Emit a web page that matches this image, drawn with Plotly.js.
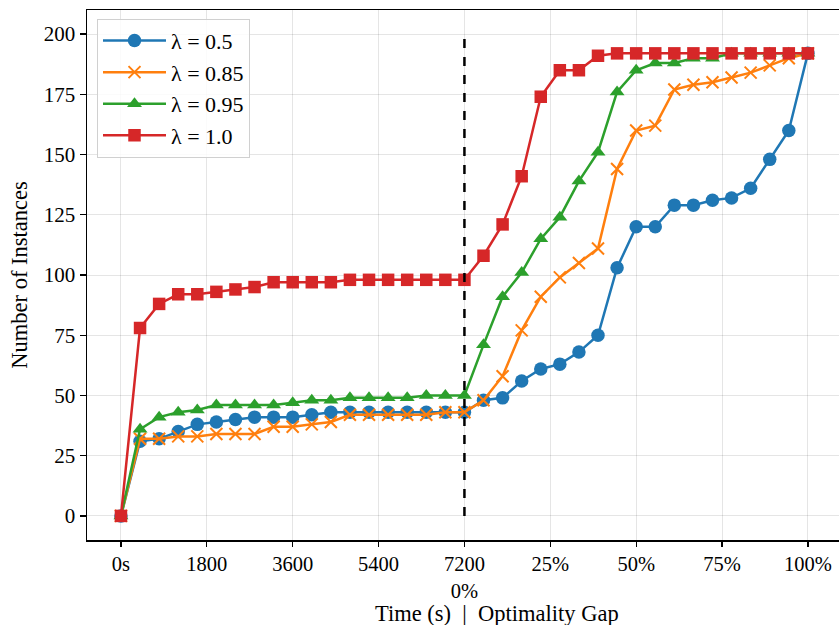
<!DOCTYPE html>
<html>
<head>
<meta charset="utf-8">
<script src="https://cdn.plot.ly/plotly-3.0.1.min.js"></script>
<style>html,body{margin:0;padding:0;background:#fff;overflow:hidden}</style>
</head>
<body>
<div id="chart" style="width:839px;height:625px"></div>
<script>
// Tick labels along the combined axis (time part then optimality-gap part)
const tickPositions = [0, 4.5, 9, 13.5, 18, 22.5, 27, 31.5, 36];
const tickLabels = ["0s", "1800", "3600", "5400", "7200<br>0%", "25%", "50%", "75%", "100%"];
const splitIndex = 18; // 7200 s / 0% boundary
const dashedLineY = [0, 200];
const xTitle = "Time (s)  |  Optimality Gap";
const yTitle = "Number of Instances";

const seriesNames = ["λ = 0.5", "λ = 0.85", "λ = 0.95", "λ = 1.0"];
const lambda05 = [0,31,32,35,38,39,40,41,41,41,42,43,43,43,43,43,43,43,43,
                  48,49,56,61,63,68,75,103,120,120,129,129,131,132,136,148,160,192];
const lambda085 = [0,32,32,33,33,34,34,34,37,37,38,39,42,42,42,42,42,43,43,
                   48,58,77,91,99,105,111,144,160,162,177,179,180,182,184,187,190,192];
const lambda095 = [0,36,41,43,44,46,46,46,46,47,48,48,49,49,49,49,50,50,50,
                   71,91,101,115,124,139,151,176,185,188,188,190,190,192,192,192,192,192];
const lambda10 = [0,78,88,92,92,93,94,95,97,97,97,97,98,98,98,98,98,98,98,
                  108,121,141,174,185,185,191,192,192,192,192,192,192,192,192,192,192,192];

const colors = ["#1f77b4", "#ff7f0e", "#2ca02c", "#d62728"];
const symbols = ["circle", "x-thin", "triangle-up", "square"];
const sizes = [13.5, 12, 13, 12.5];
const allSeries = [lambda05, lambda085, lambda095, lambda10];

const xs = lambda05.map((_, i) => i);

const traces = allSeries.map((ys, k) => ({
  x: xs, y: ys, name: seriesNames[k], type: "scatter", mode: "lines+markers",
  line: {color: colors[k], width: 2.5},
  marker: {symbol: symbols[k], size: sizes[k], color: colors[k],
           line: {color: colors[k], width: symbols[k] === "x-thin" ? 2 : 0}}
}));

const font = "'Liberation Serif', serif";
const layout = {
  width: 839, height: 625,
  margin: {l: 87, r: 0, t: 10, b: 85},
  paper_bgcolor: "#fff", plot_bgcolor: "#fff",
  font: {family: font, size: 21, color: "#000"},
  showlegend: true,
  legend: {x: 0.0133, y: 0.9835, xanchor: "left", yanchor: "top",
           bgcolor: "rgba(255,255,255,0.85)", bordercolor: "#d0d0d0", borderwidth: 1,
           font: {family: font, size: 22, color: "#000"}, itemwidth: 63, tracegroupgap: 0},
  xaxis: {
    range: [-1.78, 37.63], tickmode: "array", tickvals: tickPositions, ticktext: tickLabels,
    showgrid: true, gridcolor: "rgba(0,0,0,0.1)", gridwidth: 1, zeroline: false,
    showline: true, linecolor: "#000", linewidth: 1.5, mirror: true,
    ticks: "outside", ticklen: 5, tickwidth: 1.2, tickcolor: "#000",
    tickfont: {family: font, size: 20.5, color: "#000"},
    automargin: false
  },
  yaxis: {
    range: [-10, 210], tickmode: "array", tickvals: [0,25,50,75,100,125,150,175,200],
    showgrid: true, gridcolor: "rgba(0,0,0,0.1)", gridwidth: 1, zeroline: false,
    showline: true, linecolor: "#000", linewidth: 1.5, mirror: false,
    ticks: "outside", ticklen: 6, tickwidth: 1.2, tickcolor: "#000",
    tickfont: {family: font, size: 21, color: "#000"},
    title: {text: yTitle, font: {family: font, size: 22.5, color: "#000"}, standoff: 10},
    automargin: false
  },
  annotations: [{text: xTitle, xref: "paper", yref: "paper", x: 0.5446, y: -0.138,
                 xanchor: "center", yanchor: "middle", showarrow: false,
                 font: {family: font, size: 22.5, color: "#000"}}],
  shapes: [{type: "line", xref: "x", yref: "y", x0: splitIndex, x1: splitIndex,
            y0: dashedLineY[0], y1: dashedLineY[1], layer: "above",
            line: {color: "#000", width: 2.5, dash: "dash"}}]
};

Plotly.newPlot("chart", traces, layout, {displayModeBar: false, staticPlot: true});
</script>
</body>
</html>
